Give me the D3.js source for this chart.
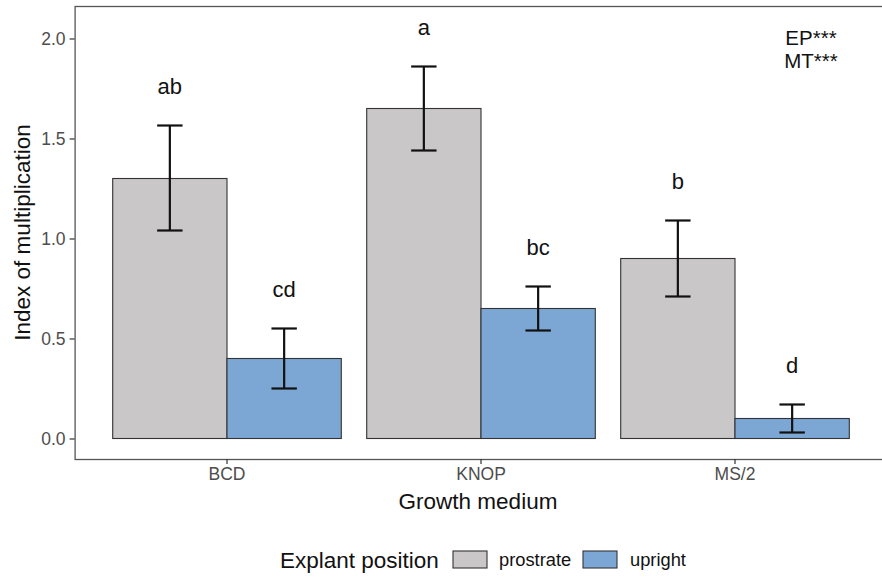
<!DOCTYPE html>
<html>
<head>
<meta charset="utf-8">
<script src="https://cdn.jsdelivr.net/npm/d3@7"></script>
<style>
  html, body { margin: 0; padding: 0; background: #fff; }
  svg { display: block; font-family: "Liberation Sans", Arial, sans-serif; }
</style>
</head>
<body>
<svg id="chart" width="882" height="577"></svg>
<script>
// ---- data ----
const media = ["BCD", "KNOP", "MS/2"];
const positions = ["prostrate", "upright"];
const prostrateMean  = [1.30, 1.65, 0.90];
const prostrateLower = [1.04, 1.44, 0.71];
const prostrateUpper = [1.565, 1.86, 1.09];
const uprightMean    = [0.40, 0.65, 0.10];
const uprightLower   = [0.25, 0.54, 0.03];
const uprightUpper   = [0.55, 0.76, 0.17];
const prostrateLetters = ["ab", "a", "b"];
const uprightLetters   = ["cd", "bc", "d"];
const yTicks = [0.0, 0.5, 1.0, 1.5, 2.0];
const annotationLines = ["EP***", "MT***"];

const rows = [];
media.forEach((m, i) => {
  rows.push({medium: m, pos: "prostrate", mean: prostrateMean[i], lo: prostrateLower[i], hi: prostrateUpper[i], letter: prostrateLetters[i]});
  rows.push({medium: m, pos: "upright", mean: uprightMean[i], lo: uprightLower[i], hi: uprightUpper[i], letter: uprightLetters[i]});
});

// ---- layout ----
const svg = d3.select("#chart");
const panel = {left: 74.6, right: 887.4, top: 6, bottom: 459};
const colors = {prostrate: "#c9c7c8", upright: "#7ca7d4"};

const x = d3.scaleBand().domain(media).range([panel.left, panel.right])
  .paddingInner(0.1).paddingOuter(0.15);
const xSub = d3.scaleBand().domain(positions).range([0, x.bandwidth()]).padding(0);
const y = d3.scaleLinear().domain([-0.1025, 2.1625]).range([panel.bottom, panel.top]);
const color = d3.scaleOrdinal().domain(positions).range([colors.prostrate, colors.upright]);

// bars
svg.append("g").selectAll("rect").data(rows).join("rect")
  .attr("x", d => x(d.medium) + xSub(d.pos))
  .attr("y", d => y(d.mean))
  .attr("width", xSub.bandwidth())
  .attr("height", d => y(0) - y(d.mean))
  .attr("fill", d => color(d.pos))
  .attr("stroke", "#333333")
  .attr("stroke-width", 1.1);

// error bars
const capW = 0.1 * x.step();
const eb = svg.append("g").attr("stroke", "#111").attr("stroke-width", 2.2).attr("fill", "none");
rows.forEach(d => {
  const cx = x(d.medium) + xSub(d.pos) + xSub.bandwidth() / 2;
  eb.append("line").attr("x1", cx).attr("x2", cx).attr("y1", y(d.lo)).attr("y2", y(d.hi));
  eb.append("line").attr("x1", cx - capW / 2).attr("x2", cx + capW / 2).attr("y1", y(d.hi)).attr("y2", y(d.hi));
  eb.append("line").attr("x1", cx - capW / 2).attr("x2", cx + capW / 2).attr("y1", y(d.lo)).attr("y2", y(d.lo));
});

// letters
svg.append("g").selectAll("text").data(rows).join("text")
  .attr("x", d => x(d.medium) + xSub(d.pos) + xSub.bandwidth() / 2)
  .attr("y", d => y(d.hi) - 32)
  .attr("text-anchor", "middle")
  .attr("font-size", 22)
  .attr("fill", "#111")
  .text(d => d.letter);

// annotation (two separate lines)
annotationLines.forEach((t, i) => {
  svg.append("text").attr("x", 811).attr("y", 45 + i * 23)
    .attr("text-anchor", "middle").attr("font-size", 20.5).attr("fill", "#111").text(t);
});

// panel border
svg.append("rect")
  .attr("x", panel.left + 0.5).attr("y", panel.top + 0.5)
  .attr("width", panel.right - panel.left).attr("height", panel.bottom - panel.top)
  .attr("fill", "none").attr("stroke", "#555").attr("stroke-width", 1.3);

// y axis
const yAxis = svg.append("g").attr("transform", `translate(${panel.left},0)`)
  .call(d3.axisLeft(y).tickValues(yTicks).tickFormat(d3.format(".1f")).tickSize(5).tickPadding(4));
yAxis.select(".domain").remove();
yAxis.selectAll(".tick line").attr("stroke", "#333").attr("stroke-width", 1.2);
yAxis.selectAll(".tick text").attr("fill", "#4d4d4d").attr("font-size", 17.5)
  .attr("font-family", "Liberation Sans, Arial, sans-serif");

// x axis
const xAxis = svg.append("g").attr("transform", `translate(0,${panel.bottom})`)
  .call(d3.axisBottom(x).tickSize(5).tickPadding(4));
xAxis.select(".domain").remove();
xAxis.selectAll(".tick line").attr("stroke", "#333").attr("stroke-width", 1.2);
xAxis.selectAll(".tick text").attr("fill", "#4d4d4d").attr("font-size", 17.5)
  .attr("font-family", "Liberation Sans, Arial, sans-serif");

// axis titles
svg.append("text").attr("x", (panel.left + panel.right) / 2 - 3).attr("y", 509)
  .attr("text-anchor", "middle").attr("font-size", 22.5).attr("fill", "#111").text("Growth medium");
svg.append("text").attr("transform", `translate(30,${(panel.top + panel.bottom) / 2}) rotate(-90)`)
  .attr("text-anchor", "middle").attr("font-size", 22.5).attr("fill", "#111").text("Index of multiplication");

// legend
const leg = svg.append("g");
leg.append("text").attr("x", 280).attr("y", 568).attr("font-size", 22.5).attr("fill", "#111").text("Explant position");
const legendKeyX = [453, 583];
const legendTextX = [499, 630];
positions.forEach((p, i) => {
  leg.append("rect").attr("x", legendKeyX[i]).attr("y", 551).attr("width", 34).attr("height", 17)
    .attr("fill", color(p)).attr("stroke", "#333").attr("stroke-width", 1.1);
  leg.append("text").attr("x", legendTextX[i]).attr("y", 566).attr("font-size", 18.3).attr("fill", "#111").text(p);
});
</script>
</body>
</html>
